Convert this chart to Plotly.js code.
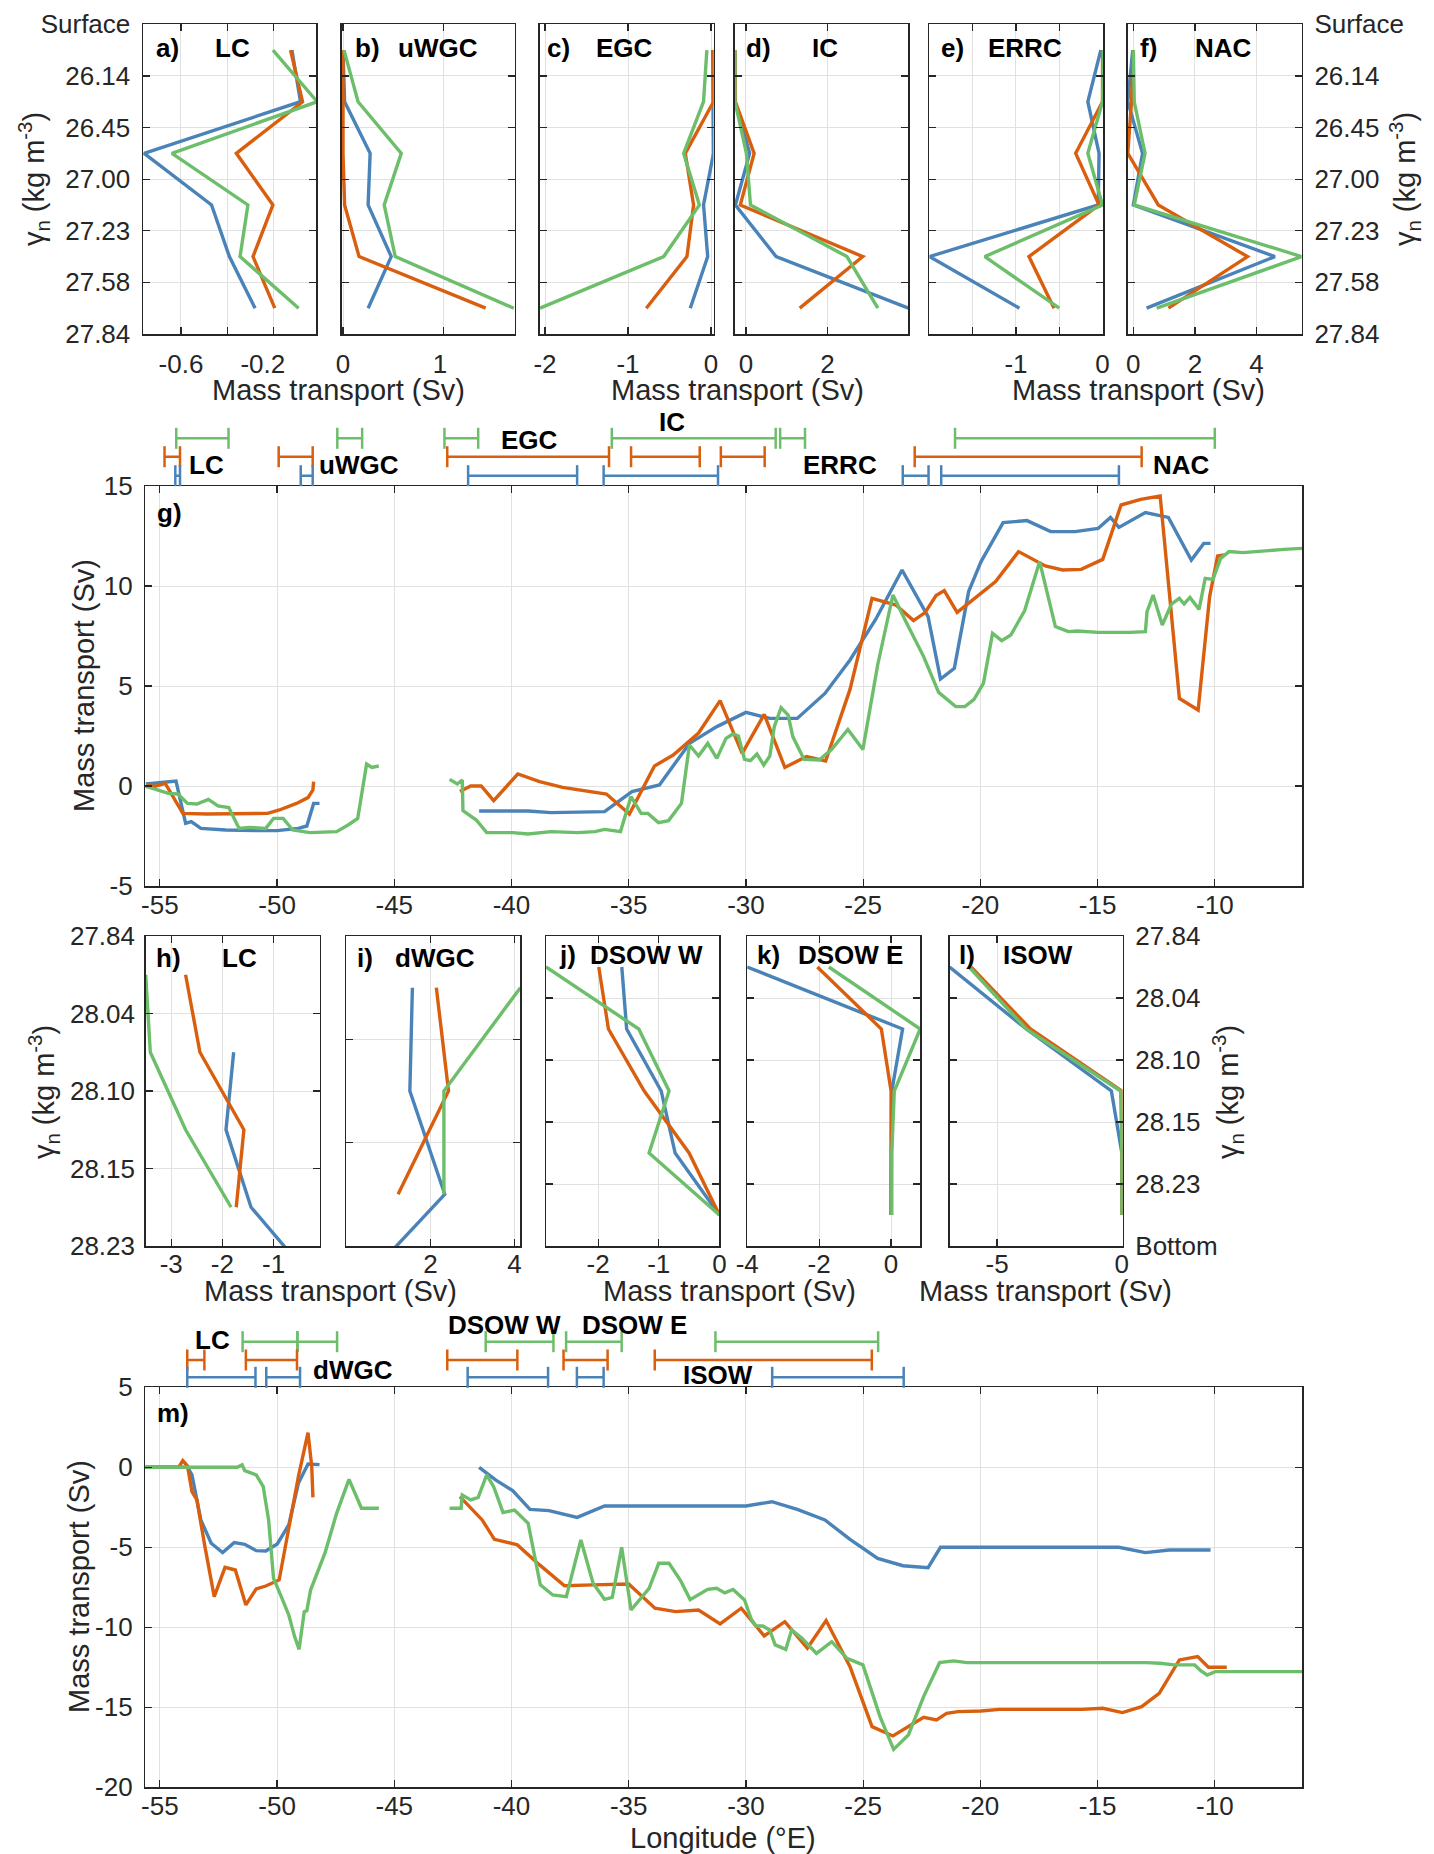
<!DOCTYPE html>
<html>
<head>
<meta charset="utf-8">
<script src="https://cdn.plot.ly/plotly-3.0.1.min.js"></script>
<style>html,body{margin:0;padding:0;background:#fff;overflow:hidden}</style>
</head>
<body>
<div id="chart" style="width:1434px;height:1854px;"></div>
<script>
// Layer labels (neutral density)
const upperLevels = ['Surface', '26.14', '26.45', '27.00', '27.23', '27.58', '27.84'];
const deepLevels = ['27.84', '28.04', '28.10', '28.15', '28.23', 'Bottom'];

// Upper-layer profiles, one value per layer (Sv)
const lcBlue = [-0.121, -0.084, -0.759, -0.468, -0.391, -0.28];
const lcOrange = [-0.127, -0.075, -0.361, -0.203, -0.289, -0.195];
const lcGreen = [-0.203, -0.012, -0.639, -0.311, -0.345, -0.092];
const uwgcBlue = [0, 0.016, 0.27, 0.25, 0.48, 0.25];
const uwgcOrange = [0, 0, 0, 0.016, 0.16, 1.42];
const uwgcGreen = [0.01, 0.15, 0.58, 0.41, 0.52, 1.70];
const egcBlue = [0.02, 0.03, 0.03, -0.09, -0.04, -0.25];
const egcOrange = [0.03, 0.03, -0.31, -0.21, -0.29, -0.78];
const egcGreen = [-0.05, -0.09, -0.33, -0.14, -0.57, -2.06];
const icBlue = [-0.27, -0.27, 0.09, -0.26, 0.74, 3.99];
const icOrange = [-0.27, -0.26, 0.2, -0.14, 2.87, 1.32];
const icGreen = [-0.27, -0.27, 0.01, 0.11, 2.48, 3.24];
const errcBlue = [-0.02, -0.17, -0.04, -0.05, -2.0, -0.96];
const errcOrange = [0, 0, -0.31, -0.04, -0.85, -0.56];
const errcGreen = [0.01, 0, -0.17, 0, -1.36, -0.5];
const nacBlue = [-0.02, -0.18, 0.3, 0, 4.6, 0.43];
const nacOrange = [0, -0.06, -0.18, 0.81, 3.71, 1.14];
const nacGreen = [0, 0.03, 0.38, 0.03, 5.47, 0.76];

// Deep-layer profiles (Sv)
const lcDeepBlue = [null, -1.78, -1.93, -1.44, -0.15];
const lcDeepOrange = [-2.72, -2.44, -1.58, -1.73];
const lcDeepGreen = [-3.5, -3.41, -2.72, -1.83];
const dwgcBlue = [1.57, 1.51, 2.34, 0.04];
const dwgcOrange = [2.14, 2.43, 1.23];
const dwgcGreen = [4.14, 2.32, 2.32];
const dsowWBlue = [-1.61, -1.53, -0.96, -0.73, 0];
const dsowWOrange = [-1.99, -1.83, -1.24, -0.5, 0];
const dsowWGreen = [-2.86, -1.33, -0.83, -1.16, 0];
const dsowEBlue = [-4.0, 0.32, 0.02, 0, 0];
const dsowEOrange = [-2.05, -0.27, 0, 0, 0];
const dsowEGreen = [-1.73, 0.81, 0.09, 0.02, 0.02];
const isowBlue = [-6.9, -3.83, -0.42, 0, 0];
const isowOrange = [-6.04, -3.66, 0, 0, 0];
const isowGreen = [-6.12, -3.83, -0.05, 0, 0];

// g) cumulative upper transport along the section
const upperLonBlue = [-55.6, -54.31, -53.9, -53.66, -53.25, -52.19, -50.89, -50.0, -49.09, -48.73, -48.44, -48.19, null,
  -41.38, -39.29, -38.31, -36.03, -34.86, -33.69, -32.41, -31.24, -30.0, -28.98, -27.81, -26.63, -25.56, -24.48, -23.34,
  -22.23, -21.7, -21.11, -20.5, -19.97, -19.03, -18.01, -17.0, -15.96, -14.98, -14.45, -14.09, -12.96, -11.98, -11.0, -10.47, -10.18];
const upperSvBlue = [0.1, 0.25, -1.87, -1.78, -2.12, -2.2, -2.23, -2.23, -2.12, -2.0, -0.87, -0.87, null,
  -1.25, -1.25, -1.33, -1.28, -0.28, 0.05, 2.13, 2.97, 3.68, 3.38, 3.38, 4.63, 6.3, 8.3, 10.8,
  8.47, 5.35, 5.88, 9.72, 11.22, 13.17, 13.27, 12.72, 12.72, 12.88, 13.43, 12.93, 13.67, 13.43, 11.3, 12.13, 12.13];
const upperLonOrange = [-55.54, -55.26, -54.77, -54.02, -53.0, -50.4, -49.9, -49.17, -48.68, -48.47, -48.44, null,
  -42.2, -41.74, -41.29, -40.76, -39.73, -38.8, -37.82, -36.84, -35.95, -34.97, -33.9, -33.1, -32.02, -31.1, -30.16,
  -29.22, -28.34, -27.42, -26.6, -25.56, -24.62, -23.6, -22.85, -22.36, -21.89, -21.54, -20.99, -19.35, -18.37, -17.23,
  -16.49, -15.7, -14.78, -14.0, -13.16, -12.33, -11.51, -10.71, -10.22, -9.88, -9.59];
const upperSvOrange = [0.1, -0.03, 0.13, -1.37, -1.4, -1.37, -1.2, -0.87, -0.58, -0.2, 0.22, null,
  -0.28, 0, 0, -0.73, 0.6, 0.22, -0.07, -0.23, -0.4, -1.4, 1.0, 1.55, 2.65, 4.27, 1.63,
  3.58, 0.93, 1.47, 1.25, 4.83, 9.38, 9.05, 8.27, 8.67, 9.52, 9.77, 8.68, 10.22, 11.72, 11.0,
  10.8, 10.83, 11.33, 14.05, 14.33, 14.5, 4.38, 3.8, 9.47, 11.5, 11.55];
const upperLonGreen = [-55.62, -54.64, -54.23, -53.82, -53.42, -52.93, -52.52, -52.06, -51.62, -51.21, -50.48, -50.15,
  -49.74, -49.33, -48.6, -47.46, -46.97, -46.56, -46.18, -45.96, -45.66, null,
  -42.64, -42.31, -42.1, -42.07, -41.5, -41.06, -39.95, -39.29, -38.31, -37.17, -36.44, -36.03, -35.35, -34.9, -34.47,
  -34.18, -33.73, -33.3, -32.75, -32.41, -32.02, -31.63, -31.24, -30.85, -30.55, -30.32, -30.06, -29.81, -29.53, -29.24,
  -28.98, -28.79, -28.5, -28.2, -28.0, -27.52, -26.87, -26.34, -25.65, -25.01, -24.38, -23.73, -23.21, -22.42, -21.78,
  -21.34, -21.05, -20.66, -20.27, -19.87, -19.48, -19.09, -18.7, -18.11, -17.47, -16.8, -16.25, -15.86, -14.98, -13.61,
  -13.28, -12.96, -12.89, -12.63, -12.24, -11.85, -11.51, -11.31, -11.06, -10.67, -10.41, -10.08, -9.75, -9.39, -8.8,
  -7.82, -7.04, -6.28];
const upperSvGreen = [0, -0.37, -0.4, -0.87, -0.9, -0.67, -1.0, -1.08, -2.12, -2.07, -2.12, -1.62,
  -1.62, -2.2, -2.33, -2.28, -1.95, -1.62, 1.1, 0.93, 1.0, null,
  0.33, 0.1, 0.3, -1.23, -1.7, -2.33, -2.33, -2.4, -2.28, -2.33, -2.28, -2.17, -2.28, -0.53, -1.37,
  -1.37, -1.83, -1.73, -0.87, 2.05, 1.5, 2.13, 1.38, 2.38, 2.6, 2.5, 1.33, 1.27, 1.6, 1.05,
  1.5, 2.97, 3.92, 3.55, 2.47, 1.33, 1.3, 1.83, 2.83, 1.83, 6.05, 9.55, 8.3, 6.47, 4.68,
  4.22, 3.97, 3.97, 4.33, 5.13, 7.63, 7.27, 7.55, 8.77, 11.22, 7.97, 7.72, 7.75, 7.68, 7.68,
  7.72, 7.72, 8.72, 9.55, 8.05, 9.1, 9.38, 9.1, 9.43, 8.83, 10.38, 10.33, 11.38, 11.72, 11.67,
  11.77, 11.83, 11.88];

// m) cumulative deep transport along the section
const deepLonBlue = [-55.62, -53.82, -53.63, -53.25, -52.81, -52.32, -51.83, -51.38, -50.89, -50.48, -49.99, -49.5,
  -49.09, -48.68, -48.19, null,
  -41.38, -40.68, -39.95, -39.21, -38.4, -37.2, -36.03, -30.0, -28.89, -27.81, -26.63, -25.56, -24.38, -23.3, -22.23,
  -21.7, -14.09, -12.96, -11.94, -10.18];
const deepSvBlue = [0, 0, -0.48, -3.29, -4.75, -5.33, -4.71, -4.81, -5.21, -5.23, -4.79, -3.6,
  -1.0, 0.21, 0.17, null,
  0, -0.79, -1.46, -2.63, -2.71, -3.13, -2.42, -2.42, -2.15, -2.63, -3.29, -4.5, -5.69, -6.15, -6.27,
  -5.0, -5.0, -5.33, -5.17, -5.17];
const deepLonOrange = [-55.62, -54.2, -54.02, -53.82, -53.63, -53.42, -53.09, -52.68, -52.22, -51.78, -51.33, -50.89,
  -50.48, -49.91, -49.5, -49.09, -48.68, -48.52, -48.47, null,
  -42.2, -41.91, -41.25, -40.73, -39.75, -38.8, -37.74, -36.52, -35.0, -33.88, -33.0, -32.02, -31.1, -30.2, -29.22,
  -28.34, -27.38, -26.58, -25.56, -24.62, -23.73, -22.42, -21.87, -21.44, -20.95, -19.97, -19.19, -15.66, -14.78,
  -13.94, -13.12, -12.37, -11.51, -10.73, -10.27, -9.49];
const deepSvOrange = [0, 0, 0.42, 0.08, -1.52, -2.04, -4.85, -8.08, -6.25, -6.42, -8.6, -7.6,
  -7.42, -7.04, -3.81, -0.58, 2.17, 0.04, -1.88, null,
  -1.83, -2.29, -3.29, -4.5, -4.85, -6.1, -7.4, -7.35, -7.29, -8.81, -9.02, -8.92, -9.79, -8.81, -10.54,
  -9.65, -11.31, -9.58, -12.46, -16.21, -16.79, -15.63, -15.79, -15.38, -15.27, -15.23, -15.13, -15.13, -15.06,
  -15.33, -14.96, -14.13, -12.04, -11.83, -12.5, -12.5];
const deepLonGreen = [-55.62, -51.7, -51.49, -51.38, -50.89, -50.59, -50.36, -50.15, -49.82, -49.5, -49.25, -49.06,
  -48.84, -48.73, -48.57, -47.95, -47.46, -46.93, -46.4, -45.66, null,
  -42.64, -42.15, -42.1, -41.74, -41.42, -41.06, -40.76, -40.36, -39.87, -39.29, -38.77, -38.24, -37.66, -37.04, -36.52,
  -36.03, -35.7, -35.3, -34.9, -34.13, -33.72, -33.28, -32.78, -32.38, -31.63, -31.25, -30.9, -30.55, -30.06, -29.77,
  -29.57, -29.28, -28.99, -28.75, -28.3, -28.05, -27.61, -26.99, -26.34, -25.69, -25.01, -24.28, -23.7, -23.07, -22.42,
  -21.74, -21.15, -20.56, -12.92, -12.33, -11.74, -10.86, -10.6, -10.33, -9.98, -6.28];
const deepSvGreen = [0, 0, 0.15, -0.21, -0.48, -1.21, -3.29, -6.94, -8.08, -9.23, -10.58, -11.38,
  -9.02, -8.96, -7.67, -5.33, -2.88, -0.75, -2.56, -2.56, null,
  -2.56, -2.56, -1.73, -2.04, -1.88, -0.48, -1.21, -2.83, -2.67, -3.5, -7.35, -7.98, -8.08, -4.54, -7.25,
  -8.25, -8.13, -5.0, -8.92, -7.56, -6.0, -6.0, -7.1, -8.27, -7.63, -7.56, -7.85, -7.63, -8.29, -9.5,
  -9.92, -9.92, -10.17, -11.1, -11.38, -10.17, -10.69, -11.63, -10.9, -11.94, -12.35, -15.58, -17.63, -16.73, -14.33,
  -12.21, -12.1, -12.21, -12.21, -12.25, -12.35, -12.35, -12.71, -12.98, -12.77, -12.77];

// Longitude extent of each current (start / end, °E)
const upperSpanGreenStart = [-54.30, -47.43, -42.86, -35.72, -28.54, -21.08];
const upperSpanGreenEnd = [-52.07, -46.37, -41.42, -28.73, -27.48, -10.0];
const upperSpanOrangeStart = [-54.80, -49.93, -42.74, -34.9, -31.07, -22.8];
const upperSpanOrangeEnd = [-54.14, -48.48, -35.84, -31.97, -29.2, -13.12];
const upperSpanBlueStart = [-54.34, -48.99, -41.85, -36.07, -23.31, -21.67];
const upperSpanBlueEnd = [-54.14, -48.48, -37.2, -31.19, -22.21, -14.09];
const deepSpanGreenStart = [-51.47, -49.13, -41.1, -37.67, -31.3];
const deepSpanGreenEnd = [-49.13, -47.44, -38.21, -35.3, -24.36];
const deepSpanOrangeStart = [-53.83, -51.33, -42.74, -37.78, -33.89];
const deepSpanOrangeEnd = [-53.1, -49.15, -39.75, -35.9, -24.63];
const deepSpanBlueStart = [-53.83, -50.46, -41.87, -37.21, -28.88];
const deepSpanBlueEnd = [-50.92, -49.02, -38.44, -36.07, -23.27];

const lonTicks = [-55, -50, -45, -40, -35, -30, -25, -20, -15, -10];

const COLORS = { blue: '#4A83B8', orange: '#D95F0E', green: '#6DBE6A' };
const FONT = 'Liberation Sans, Arial, Helvetica, sans-serif';
const AXIS_COLOR = '#262626';
const LINE_W = 3.4;
const NBSP = '\u00a0';
const W = 1434, H = 1854;
const px = v => v / W;
const py = v => 1 - v / H;

const traces = [];
const annotations = [];
const layout = {
    width: W, height: H,
    margin: { l: 0, r: 0, t: 0, b: 0 },
    paper_bgcolor: '#fff', plot_bgcolor: '#fff',
    showlegend: false,
    font: { family: FONT, size: 26, color: AXIS_COLOR },
    annotations
};

function frameAxis(extra) {
    return Object.assign({
        showline: true, linecolor: AXIS_COLOR, linewidth: 1.5, mirror: 'ticks',
        ticks: 'inside', ticklen: 7, tickwidth: 1.2, tickcolor: AXIS_COLOR,
        showgrid: true, gridcolor: '#e1e1e1', gridwidth: 1, zeroline: false,
        tickfont: { family: FONT, size: 26, color: AXIS_COLOR }, fixedrange: true
    }, extra);
}

function label(text, x, y, opts) {
    annotations.push(Object.assign({
        text, x: px(x), y: py(y), xref: 'paper', yref: 'paper',
        showarrow: false, xanchor: 'center', yanchor: 'middle',
        font: { family: FONT, size: 26, color: '#000' }
    }, opts));
}

function addProfile(n, values, color) {
    traces.push({
        type: 'scatter', mode: 'lines',
        x: values, y: values.map((_, k) => k + 0.5),
        xaxis: 'x' + n, yaxis: 'y' + n,
        line: { color, width: LINE_W }, hoverinfo: 'skip'
    });
}

// profile panels a-f and h-l
const profilePanels = [
    { n: 1, x0: 143, x1: 316, row: 'top', range: [-0.764, -0.017], tv: [-0.6, -0.4, -0.2], tt: ['-0.6', NBSP, '-0.2' + NBSP.repeat(3)],
      s: [lcBlue, lcOrange, lcGreen], tag: 'a)', name: 'LC', tagX: 154, nameX: 232 },
    { n: 2, x0: 341.6, x1: 514.8, row: 'top', range: [-0.014, 1.71], tv: [0, 1], tt: ['0', '1' + NBSP],
      s: [uwgcBlue, uwgcOrange, uwgcGreen], tag: 'b)', name: 'uWGC', tagX: 352.7, nameX: 438 },
    { n: 3, x0: 539.7, x1: 713.5, row: 'top', range: [-2.064, 0.03], tv: [-2, -1, 0], tt: ['-2', '-1', '0'],
      s: [egcBlue, egcOrange, egcGreen], tag: 'c)', name: 'EGC', tagX: 545, nameX: 624 },
    { n: 4, x0: 734.8, x1: 908.4, row: 'top', range: [-0.275, 3.99], tv: [0, 2], tt: ['0', '2'],
      s: [icBlue, icOrange, icGreen], tag: 'd)', name: 'IC', tagX: 744, nameX: 825 },
    { n: 5, x0: 929.4, x1: 1103.4, row: 'top', range: [-2.0, 0.01], tv: [-1.5, -1, -0.5, 0], tt: [NBSP, '-1', NBSP, '0'],
      s: [errcBlue, errcOrange, errcGreen], tag: 'e)', name: 'ERRC', tagX: 939, nameX: 1025 },
    { n: 6, x0: 1127.8, x1: 1301.7, row: 'top', range: [-0.18, 5.47], tv: [0, 2, 4], tt: ['0', '2', '4'],
      s: [nacBlue, nacOrange, nacGreen], tag: 'f)', name: 'NAC', tagX: 1138.3, nameX: 1223 },
    { n: 8, x0: 145.7, x1: 319.6, row: 'deep', layers: 4, range: [-3.5, -0.1], tv: [-3, -2, -1], tt: ['-3', '-2', '-1'],
      s: [lcDeepBlue, lcDeepOrange, lcDeepGreen], tag: 'h)', name: 'LC', tagX: 154, nameX: 239 },
    { n: 9, x0: 346.4, x1: 520.4, row: 'deep', layers: 3, range: [0, 4.14], tv: [2, 4], tt: ['2', '4'],
      s: [dwgcBlue, dwgcOrange, dwgcGreen], tag: 'i)', name: 'dWGC', tagX: 354.6, nameX: 434.5 },
    { n: 10, x0: 546, x1: 719.4, row: 'deep', layers: 5, range: [-2.86, 0], tv: [-2, -1, 0], tt: ['-2', '-1', '0'],
      s: [dsowWBlue, dsowWOrange, dsowWGreen], tag: 'j)', name: 'DSOW W', tagX: 557.4, nameX: 646 },
    { n: 11, x0: 747.2, x1: 920.2, row: 'deep', layers: 5, range: [-4, 0.81], tv: [-4, -2, 0], tt: ['-4', '-2', '0'],
      s: [dsowEBlue, dsowEOrange, dsowEGreen], tag: 'k)', name: 'DSOW E', tagX: 755, nameX: 850 },
    { n: 12, x0: 949.6, x1: 1122.6, row: 'deep', layers: 5, range: [-6.9, 0.03], tv: [-5, 0], tt: ['-5', '0'],
      s: [isowBlue, isowOrange, isowGreen], tag: 'l)', name: 'ISOW', tagX: 957, nameX: 1038 }
];

profilePanels.forEach(p => {
    const top = p.row === 'top';
    const y0 = top ? 24.3 : 936, y1 = top ? 334 : 1246;
    const nLayers = top ? 6 : p.layers;
    const yTicks = Array.from({ length: nLayers + 1 }, (_, k) => k);
    const yax = {
        domain: [py(y1), py(y0)], anchor: 'x' + p.n,
        range: [nLayers, 0], tickvals: yTicks, showticklabels: false
    };
    if (p.n === 1) Object.assign(yax, { ticktext: upperLevels, showticklabels: true, ticklabelstandoff: 6 });
    if (p.n === 6) Object.assign(yax, { ticktext: upperLevels, showticklabels: true, side: 'right', ticklabelstandoff: 6 });
    if (p.n === 8) Object.assign(yax, { ticktext: deepLevels.slice(0, 5), showticklabels: true, ticklabelstandoff: 4 });
    if (p.n === 12) Object.assign(yax, { ticktext: deepLevels, showticklabels: true, side: 'right', ticklabelstandoff: 6 });
    if (p.n === 9) yax.tickvals = [1, 2];
    if (p.n === 10 || p.n === 11) yax.tickvals = [1, 2, 3, 4];

    layout['xaxis' + p.n] = frameAxis({
        domain: [px(p.x0), px(p.x1)], anchor: 'y' + p.n, range: p.range,
        tickvals: p.tv, ticktext: p.tt, ticklabelstandoff: top ? 6 : -6
    });
    layout['yaxis' + p.n] = frameAxis(yax);

    addProfile(p.n, p.s[0], COLORS.blue);
    addProfile(p.n, p.s[1], COLORS.orange);
    addProfile(p.n, p.s[2], COLORS.green);

    const ty = top ? 48 : (p.n >= 10 ? 955 : 958);
    label('<b>' + p.tag + '</b>', p.tagX, ty, { xanchor: 'left' });
    label('<b>' + p.name + '</b>', p.nameX, ty);
});

// section panels g and m
function sectionPanel(n, y0, y1, yRange, yTicks, series) {
    layout['xaxis' + n] = frameAxis({
        domain: [px(145.3), px(1302)], anchor: 'y' + n, range: [-55.62, -6.28],
        tickvals: lonTicks, ticktext: lonTicks.map(String), ticklabelstandoff: -5
    });
    layout['yaxis' + n] = frameAxis({
        domain: [py(y1), py(y0)], anchor: 'x' + n, range: yRange,
        tickvals: yTicks, ticktext: yTicks.map(String), ticklabelstandoff: 6
    });
    series.forEach(([x, y, color]) => traces.push({
        type: 'scatter', mode: 'lines', x, y, xaxis: 'x' + n, yaxis: 'y' + n,
        line: { color, width: LINE_W }, connectgaps: false, hoverinfo: 'skip'
    }));
}

sectionPanel(7, 486, 886, [-5, 15], [-5, 0, 5, 10, 15], [
    [upperLonBlue, upperSvBlue, COLORS.blue],
    [upperLonOrange, upperSvOrange, COLORS.orange],
    [upperLonGreen, upperSvGreen, COLORS.green]
]);
sectionPanel(13, 1387.3, 1787.3, [-20, 5], [-20, -15, -10, -5, 0, 5], [
    [deepLonBlue, deepSvBlue, COLORS.blue],
    [deepLonOrange, deepSvOrange, COLORS.orange],
    [deepLonGreen, deepSvGreen, COLORS.green]
]);

// bracket strips above g and m, y axis in page pixels
function spanStrip(n, yTop, yBottom, rows) {
    layout['xaxis' + n] = { domain: [px(145.3), px(1302)], range: [-55.62, -6.28], visible: false, anchor: 'y' + n, fixedrange: true };
    layout['yaxis' + n] = { domain: [py(yBottom), py(yTop)], range: [yBottom, yTop], visible: false, anchor: 'x' + n, fixedrange: true };
    rows.forEach(([starts, ends, color, rowY]) => {
        const x = [], y = [];
        starts.forEach((s, k) => { x.push(s, ends[k], null); y.push(rowY, rowY, null); });
        traces.push({
            type: 'scatter', mode: 'lines+markers', x, y, xaxis: 'x' + n, yaxis: 'y' + n,
            line: { color, width: 2.5 }, cliponaxis: false,
            marker: { symbol: 'line-ns', size: 15, color, line: { color, width: 2.5 } },
            hoverinfo: 'skip'
        });
    });
}

spanStrip(14, 400, 486, [
    [upperSpanGreenStart, upperSpanGreenEnd, COLORS.green, 438.3],
    [upperSpanOrangeStart, upperSpanOrangeEnd, COLORS.orange, 456.7],
    [upperSpanBlueStart, upperSpanBlueEnd, COLORS.blue, 475.7]
]);
spanStrip(15, 1300, 1387.3, [
    [deepSpanGreenStart, deepSpanGreenEnd, COLORS.green, 1341.7],
    [deepSpanOrangeStart, deepSpanOrangeEnd, COLORS.orange, 1360],
    [deepSpanBlueStart, deepSpanBlueEnd, COLORS.blue, 1377.3]
]);

function spanLabel(n, text, lon, y) {
    annotations.push({
        text: '<b>' + text + '</b>', x: lon, y, xref: 'x' + n, yref: 'y' + n,
        showarrow: false, xanchor: 'center', yanchor: 'middle',
        font: { family: FONT, size: 26, color: '#000' }
    });
}
spanLabel(14, 'LC', -53.0, 465);
spanLabel(14, 'uWGC', -46.5, 465);
spanLabel(14, 'EGC', -39.25, 440);
spanLabel(14, 'IC', -33.15, 422);
spanLabel(14, 'ERRC', -26.0, 465);
spanLabel(14, 'NAC', -11.4, 465);
spanLabel(15, 'LC', -52.74, 1340);
spanLabel(15, 'dWGC', -46.76, 1370);
spanLabel(15, 'DSOW W', -40.3, 1325);
spanLabel(15, 'DSOW E', -34.74, 1325);
spanLabel(15, 'ISOW', -31.2, 1375);

label('<b>g)</b>', 155, 513, { xanchor: 'left' });
label('<b>m)</b>', 155, 1413, { xanchor: 'left' });

// axis titles
const TITLE_FONT = { family: FONT, size: 29, color: AXIS_COLOR };
const gammaTitle = '\u03b3<sub>n</sub> (kg m<sup>-3</sup>)';
const massTitle = 'Mass transport (Sv)';
[338, 738, 1138].forEach(x => label(massTitle, x, 390, { font: TITLE_FONT }));
[330, 729, 1045].forEach(x => label(massTitle, x, 1291, { font: TITLE_FONT }));
label(massTitle, 84, 686, { font: TITLE_FONT, textangle: -90 });
label(massTitle, 79, 1587, { font: TITLE_FONT, textangle: -90 });
label(gammaTitle, 34, 179, { font: TITLE_FONT, textangle: -90 });
label(gammaTitle, 1405, 179, { font: TITLE_FONT, textangle: -90 });
label(gammaTitle, 44, 1092, { font: TITLE_FONT, textangle: -90 });
label(gammaTitle, 1228, 1092, { font: TITLE_FONT, textangle: -90 });
label('Longitude (\u00b0E)', 723, 1838, { font: TITLE_FONT });

Plotly.newPlot('chart', traces, layout, { displayModeBar: false, staticPlot: true });
</script>
</body>
</html>
